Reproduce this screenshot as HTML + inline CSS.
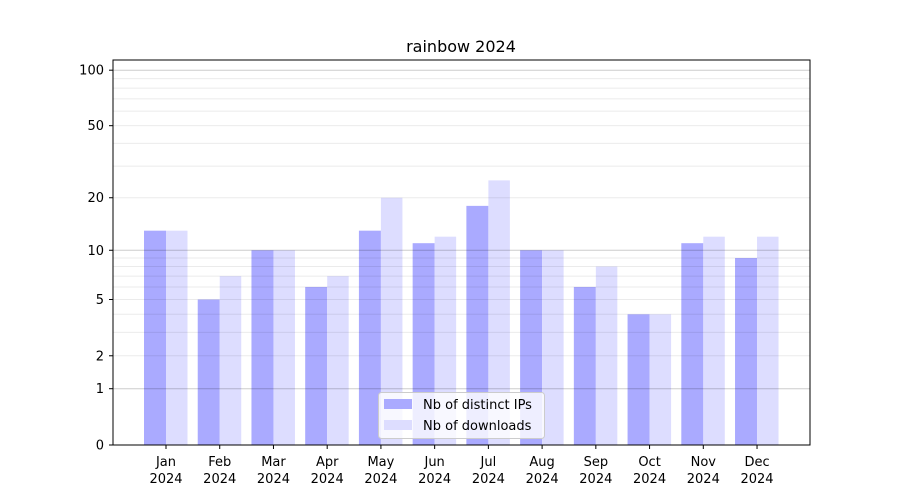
<!DOCTYPE html>
<html><head><meta charset="utf-8"><style>body{margin:0;background:#fff}svg{display:block;font-family:"DejaVu Sans","Liberation Sans",sans-serif}</style></head>
<body>
<svg id="s" width="900" height="500" xmlns="http://www.w3.org/2000/svg"></svg>
<script>
const s=document.getElementById('s');
const f=v=>445-187*Math.log10(1+v);
let h='<rect width="900" height="500" fill="#fff"/>';
const ips=[13,5,10,6,13,11,18,10,6,4,11,9],dl=[13,7,10,7,20,12,25,10,8,4,12,12];
const m=['Jan','Feb','Mar','Apr','May','Jun','Jul','Aug','Sep','Oct','Nov','Dec'];
for(let i=0;i<12;i++){const c=166+i*53.73;
 h+=`<rect x="${c-22}" y="${f(ips[i])}" width="22" height="${445-f(ips[i])}" fill="#aaaaff"/>`;
 h+=`<rect x="${c}" y="${f(dl[i])}" width="21.5" height="${445-f(dl[i])}" fill="#ddddff"/>`;
 h+=`<line x1="${c}" y1="445" x2="${c}" y2="449" stroke="#000"/>`;
 h+=`<text x="${c}" y="466" font-size="13" text-anchor="middle">${m[i]}</text><text x="${c}" y="483" font-size="13" text-anchor="middle">2024</text>`;
}
const minors=[2,3,4,5,6,7,8,9,20,30,40,50,60,70,80,90];
for(const v of minors){const y=f(v);h+=`<line x1="113" x2="810" y1="${y}" y2="${y}" stroke="#000" stroke-opacity="0.08"/>`;}
for(const v of [1,10,100]){const y=f(v);h+=`<line x1="113" x2="810" y1="${y}" y2="${y}" stroke="#000" stroke-opacity="0.2"/>`;}
for(const v of [0,1,2,5,10,20,50,100]){const y=f(v);h+=`<line x1="109" x2="113" y1="${y}" y2="${y}" stroke="#000"/><text x="104" y="${y+4.5}" font-size="13" text-anchor="end">${v}</text>`;}
h+='<rect x="113" y="60" width="697" height="385" fill="none" stroke="#000" stroke-width="1"/>';
h+='<text x="461" y="52" font-size="16" text-anchor="middle">rainbow 2024</text>';
h+='<rect x="378.5" y="392.5" width="166" height="46" rx="3" fill="#fff" fill-opacity="0.8" stroke="#ccc"/>';
h+='<rect x="384" y="399" width="28" height="10" fill="#aaaaff"/><rect x="384" y="420" width="28" height="10" fill="#ddddff"/>';
h+='<text x="423" y="409" font-size="13">Nb of distinct IPs</text><text x="423" y="430" font-size="13">Nb of downloads</text>';
s.innerHTML=h;
</script>
</body></html>
